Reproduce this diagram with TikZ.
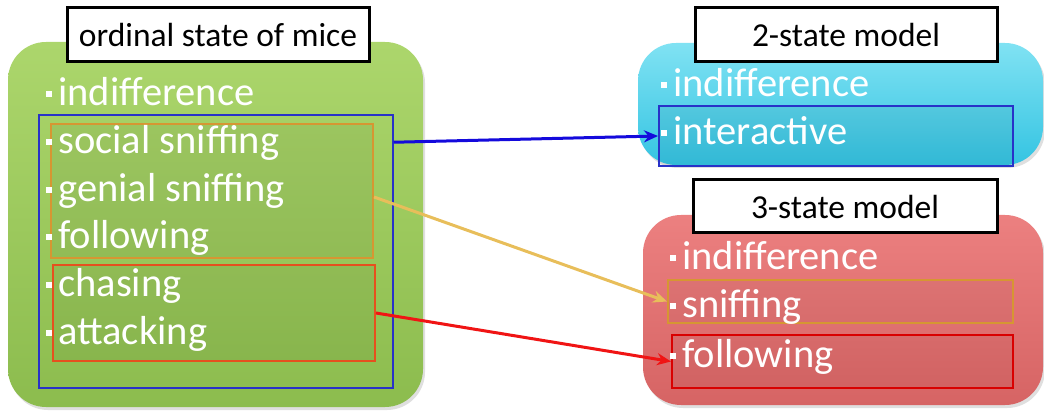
\documentclass[tikz,border=0pt]{standalone}
\usepackage{fontspec}
\setmainfont{Carlito}
\usetikzlibrary{arrows.meta,calc,shadows}
\definecolor{gtop}{RGB}{172,214,108}
\definecolor{gbot}{RGB}{140,188,78}
\definecolor{ctop}{RGB}{128,226,243}
\definecolor{cbot}{RGB}{52,196,226}
\definecolor{rtop}{RGB}{236,128,128}
\definecolor{rbot}{RGB}{214,100,100}
\definecolor{frameblue}{RGB}{40,50,200}
\definecolor{frameorange}{RGB}{214,150,50}
\definecolor{framered}{RGB}{230,80,30}
\definecolor{arrblue}{RGB}{20,10,220}
\definecolor{arryellow}{RGB}{232,190,90}
\definecolor{arrred}{RGB}{240,20,20}
\tikzset{
  x=1pt, y=-1pt,
  panel/.style={rounded corners=38pt, drop shadow={shadow xshift=2pt, shadow yshift=-3pt, opacity=0.25}},
  titlebox/.style={draw=black, line width=3pt, fill=white, inner sep=0pt, font=\fontsize{33.5}{40}\selectfont, text=black},
  item/.style={anchor=base west, inner sep=0pt, text=white, font=\fontsize{40.5}{48}\selectfont},
  frame/.style={draw, line width=2pt, inner sep=0pt},
  conn/.style={line width=3pt, -{Stealth[length=14pt,width=12pt]}},
}
\newcommand{\bul}{\raisebox{0.22em}{\rule{0.14em}{0.14em}}\hspace{0.16em}}
\begin{document}
\begin{tikzpicture}
\useasboundingbox (0,0) rectangle (1044,411);
% panels
\shade[panel, top color=gtop, bottom color=gbot] (8,42) rectangle (423,407);
\shade[panel, top color=ctop, bottom color=cbot] (638,43) rectangle (1043,165);
\shade[panel, top color=rtop, bottom color=rbot] (643,215) rectangle (1043,405);
% frames left
\node[frame, draw=frameblue, line width=1.5pt, minimum width=354pt, minimum height=273pt] (blueL) at (216,251.5) {};
\node[frame, draw=frameorange, fill=black, fill opacity=0.05, minimum width=322pt, minimum height=134pt] (orangeL) at (212,191) {};
\node[frame, draw=framered, fill=black, fill opacity=0.05, minimum width=322pt, minimum height=96pt] (redL) at (214,313) {};
% frames right
\node[frame, draw=frameblue, fill=black, fill opacity=0.05, minimum width=354pt, minimum height=60pt] (interR) at (836,136) {};
\node[frame, draw=frameorange, fill=black, fill opacity=0.03, minimum width=345pt, minimum height=43pt] (sniffR) at (840.5,301.5) {};
\node[frame, draw=red!85!black, fill=black, fill opacity=0.03, minimum width=341pt, minimum height=53pt] (followR) at (842.5,361.5) {};
% titles
\node[titlebox, minimum width=302pt, minimum height=54pt] (t1) at (218,35) {ordinal state of mice};
\node[titlebox, minimum width=302pt, minimum height=54pt] (t2) at (846,35) {2-state model};
\node[titlebox, minimum width=304pt, minimum height=53pt] (t3) at (845,206.5) {3-state model};
% left items
\node[item] (l1) at (46,106) {\bul indifference};
\node[item] (l2) at (46,154) {\bul social sniffing};
\node[item] (l3) at (46,202) {\bul genial sniffing};
\node[item] (l4) at (46,249) {\bul following};
\node[item] (l5) at (46,297) {\bul chasing};
\node[item] (l6) at (46,345) {\bul attacking};
% right items
\node[item] (r1) at (661,97) {\bul indifference};
\node[item] (r2) at (661,145) {\bul interactive};
\node[item] (r3) at (670,270) {\bul indifference};
\node[item] (r4) at (670,318) {\bul sniffing};
\node[item] (r5) at (670,368) {\bul following};
% connectors
\draw[conn, arrblue] ($(blueL.north east)+(0,28)$) -- (interR.west);
\draw[conn, arryellow] ($(orangeL.east)+(0,6)$) -- (sniffR.west);
\draw[conn, arrred] (redL.east) -- (followR.west);
\end{tikzpicture}
\end{document}
